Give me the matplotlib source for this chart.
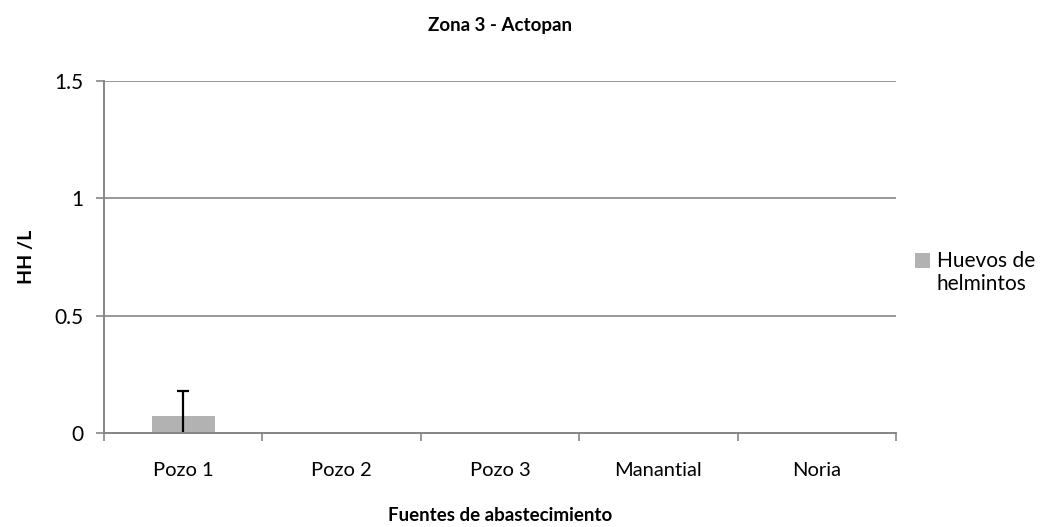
import numpy as np
from matplotlib import pyplot as plt
from matplotlib.patches import Rectangle
from matplotlib.container import BarContainer
from matplotlib.legend_handler import HandlerPatch

plt.rcParams['font.family'] = ['Lato', 'DejaVu Sans']

# Datos
fuentes = ['Pozo 1', 'Pozo 2', 'Pozo 3', 'Manantial', 'Noria']
huevos = [0.072, 0.0, 0.0, 0.0, 0.0]
err_inf = [0.072, 0, 0, 0, 0]
err_sup = [0.107, 0, 0, 0, 0]


class CuadroArriba(HandlerPatch):
    '''cuadro de la leyenda alineado con la primera linea'''
    def create_artists(self, legend, orig_handle, xdescent, ydescent,
                       width, height, fontsize, trans):
        color = orig_handle.patches[0].get_facecolor()
        p = Rectangle((-xdescent, -ydescent + 0.62*fontsize), width, height,
                      facecolor=color, edgecolor='none', transform=trans)
        return [p]


fig = plt.figure(figsize=(10.43, 5.27), dpi=100)
ax = fig.add_axes([0.0997, 0.1784, 0.7593, 0.668])

x = np.arange(len(fuentes))
barras = ax.bar(x, huevos, width=0.4, color='#b2b2b2', label='Huevos de\nhelmintos', zorder=2)

# barra de error solo donde hay valor
con = [i for i in range(len(fuentes)) if err_sup[i] > 0]
val = np.array(huevos)[con]
ax.errorbar(x[con], val, yerr=[np.array(err_inf)[con], np.array(err_sup)[con]],
            fmt='none', ecolor='black', elinewidth=1.6, capsize=0, zorder=3)
ax.plot(x[con], val + np.array(err_sup)[con], ls='none', marker='_',
        markersize=8, mew=1.6, color='black', zorder=3)

ax.set_xlim(-0.5, len(fuentes) - 0.5)
ax.set_ylim(0, 1.5)
ax.set_yticks([0, 0.5, 1, 1.5])
ax.set_yticklabels(['0', '0.5', '1', '1.5'], fontsize=15)
ax.set_xticks(x)
ax.set_xticklabels(fuentes, fontsize=14.5)
ax.set_xticks(np.arange(len(fuentes) + 1) - 0.5, minor=True)
ax.tick_params(axis='x', which='major', length=0, pad=21)
ax.tick_params(axis='x', which='minor', length=6, color='#868686', width=1.2)
ax.tick_params(axis='y', length=6, color='#868686', width=1.2, pad=9)

ax.yaxis.grid(True, color='#868686', lw=1.2)
ax.set_axisbelow(True)
for s in ['top', 'right']:
    ax.spines[s].set_visible(False)
for s in ['left', 'bottom']:
    ax.spines[s].set_color('#868686')
    ax.spines[s].set_linewidth(1.4)
    ax.spines[s].set_zorder(4)

ax.set_title('Zona 3 - Actopan', fontsize=13.5, fontweight='bold', pad=36)
ax.set_ylabel('HH /L', fontsize=14, fontweight='bold', labelpad=14)
ax.set_xlabel('Fuentes de abastecimiento', fontsize=13.5, fontweight='bold', labelpad=20)

ax.legend(handler_map={BarContainer: CuadroArriba()},
          loc='center left', bbox_to_anchor=(1.0, 0.456), frameon=False,
          fontsize=15, handlelength=0.72, handleheight=0.72, handletextpad=0.35)

fig.savefig('out.png', dpi=100)
